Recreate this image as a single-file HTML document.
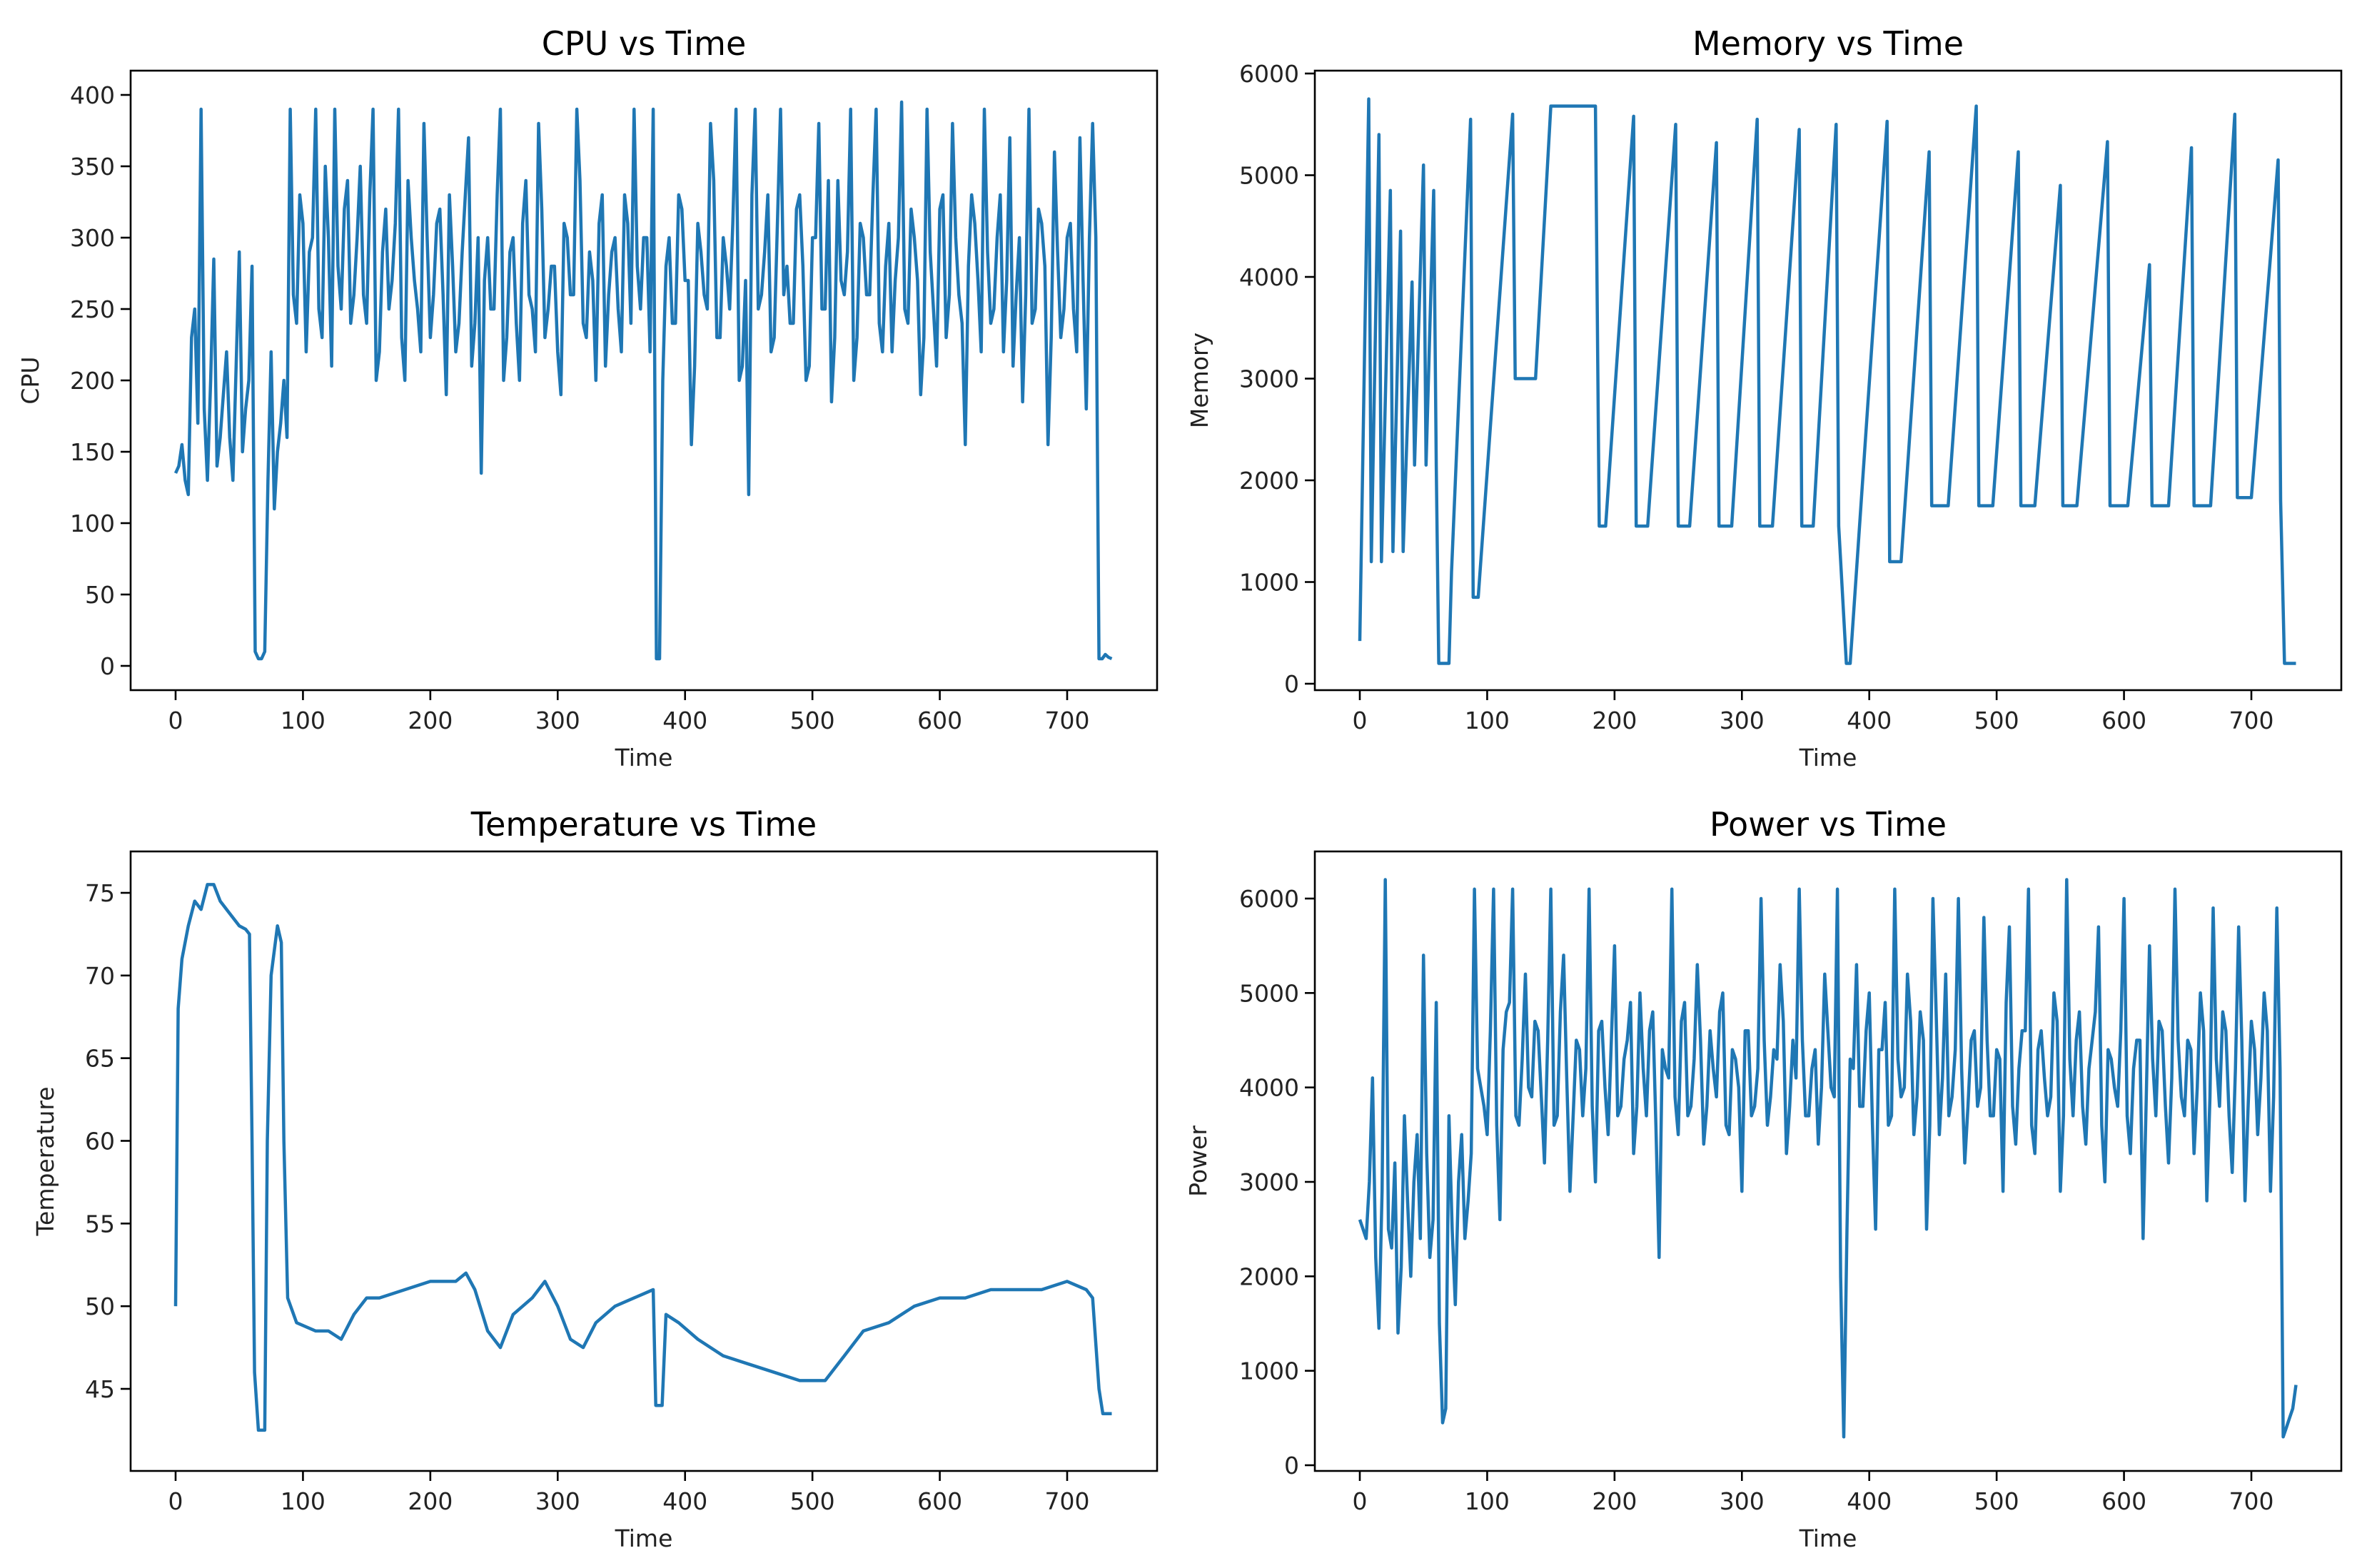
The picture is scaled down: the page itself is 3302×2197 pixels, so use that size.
<!DOCTYPE html>
<html><head><meta charset="utf-8">
<style>
html,body{margin:0;padding:0;background:#fff;}
svg{display:block;font-family:"DejaVu Sans","Liberation Sans",sans-serif;}
</style></head>
<body>
<svg id="fig" width="3302" height="2197" viewBox="0 0 3302 2197" xmlns="http://www.w3.org/2000/svg"></svg>
<script>
// ---- data ----
const STEP = 5;
const cpuValues = [135,155,120,250,390,130,285,160,220,130,290,180,280,5,10,220,150,200,390,240,310,290,390,230,300,390,250,340,260,350,240,390,220,320,270,390,200,300,250,380,230,310,260,330,220,290,370,240,135,300,250,390,230,300,200,340,250,380,230,280,220,310,260,390,240,290,200,330,260,300,220,310,390,250,300,390,5,280,240,330,270,155,310,260,380,230,300,250,390,210,120,390,260,330,230,390,280,240,330,200,300,380,250,185,340,260,390,230,300,260,390,220,310,270,395,240,300,190,390,250,320,230,380,260,155,330,270,390,240,300,220,370,260,185,390,250,310,155,360,230,300,250,370,180,380,5,8,5];
const cpuMidValues = [140,130,230,170,180,200,140,190,160,210,150,200,10,5,130,110,170,160,
260,330,220,300,250,350,210,280,320,240,300,260,330,200,290,250,310,230,340,270,220,300,260,320,190,280,240,330,210,300,270,250,330,200,290,240,310,260,220,320,250,280,190,300,260,340,230,270,310,210,290,250,330,240,280,300,220,
5,200,
300,240,320,270,210,290,250,340,230,280,310,200,270,330,250,290,220,310,260,240,320,280,210,300,250,340,230,270,290,200,310,260,330,240,280,220,300,250,320,270,230,290,210,330,260,300,240,280,310,220,290,250,330,270,210,300,260,240,320,280,230,290,250,310,220,270,300,
300,5,6];
const powerValues = [2600,2400,4100,1450,6200,2300,1400,3700,2000,3500,5400,2200,4900,450,3700,1700,3500,2800,6100,4000,3500,6100,2600,4800,6100,3600,5200,3900,4600,3200,6100,3700,5400,2900,4500,3700,6100,3000,4700,3500,5500,3800,4500,3300,5000,3700,4800,2200,4200,6100,3500,4900,3800,5300,3400,4600,3900,5000,3500,4300,2900,4600,3800,6000,3600,4400,5300,3300,4500,6100,3700,4200,3400,5200,4000,6100,300,4300,5300,3800,5000,2500,4400,3600,6100,3900,5200,3500,4800,2500,6000,3500,5200,3900,6000,3200,4500,3800,5800,3700,4400,2900,5700,3400,4600,6100,3300,4600,3700,5000,2900,6200,3700,4800,3400,4500,5700,3000,4300,3800,6000,3300,4500,2400,5500,3700,4600,3200,6100,3900,4500,3300,5000,2800,5900,3800,4600,3100,5700,2800,4700,3500,5000,2900,5900,300,500,850];
const powerMidValues = [2500,3000,2200,2900,2500,3200,2100,2800,3000,2400,3300,2600,1500,600,2500,3000,2400,3300,
4200,3800,4600,3600,4400,4900,3700,4300,4000,4700,3900,4500,3600,4800,4100,3700,4400,4200,3800,4600,4000,4500,3700,4300,4900,3800,4200,4600,3600,4400,4100,3900,4700,3700,4300,4500,3800,4200,4800,3600,4400,4000,4600,3700,4200,4500,3900,4300,4700,3800,4100,4500,3700,4400,4000,4600,3900,
2000,2500,
4200,3800,4600,3600,4400,4900,3700,4300,4000,4700,3900,4500,3600,4800,4100,3700,4400,4200,3800,4600,4000,4500,3700,4300,4900,3800,4200,4600,3600,4400,4100,3900,4700,3700,4300,4500,3800,4200,4800,3600,4400,4000,4600,3700,4200,4500,3900,4300,4700,3800,4100,4500,3700,4400,4000,4600,3900,4300,4800,3700,4200,4500,3800,4400,4100,4600,3900,
4200,400,600];
const memTimes = [0,7,9,15,17,24,26,32,34,41,43,50,52,58,60,62,70,72,87,89,93,120,122,138,150,185,188,193,215,217,226,248,250,259,280,282,292,312,314,324,345,347,356,374,376,382,385,414,416,425,447,449,462,484,486,497,517,519,530,550,552,563,587,589,603,620,622,635,653,655,668,687,689,700,721,723,726,735];
const memValues = [420,5750,1200,5400,1200,4850,1300,4450,1300,3950,2150,5100,2150,4850,2150,200,200,1100,5550,850,850,5600,3000,3000,5680,5680,1550,1550,5580,1550,1550,5500,1550,1550,5320,1550,1550,5550,1550,1550,5450,1550,1550,5500,1550,200,200,5530,1200,1200,5230,1750,1750,5680,1750,1750,5230,1750,1750,4900,1750,1750,5330,1750,1750,4120,1750,1750,5270,1750,1750,5600,1830,1830,5150,1800,200,200];
const tempTimes = [0,2,5,10,15,20,25,30,35,40,45,50,55,58,60,62,65,70,72,75,80,83,85,88,95,110,120,130,140,150,160,180,200,220,228,235,245,255,265,280,290,300,310,320,330,345,360,375,377,382,385,395,410,430,450,470,490,500,510,525,540,560,580,600,620,640,660,680,700,715,720,725,728,735];
const tempValues = [50,68,71,73,74.5,74,75.5,75.5,74.5,74,73.5,73,72.8,72.5,60,46,42.5,42.5,60,70,73,72,60,50.5,49,48.5,48.5,48,49.5,50.5,50.5,51,51.5,51.5,52,51,48.5,47.5,49.5,50.5,51.5,50,48,47.5,49,50,50.5,51,44,44,49.5,49,48,47,46.5,46,45.5,45.5,45.5,47,48.5,49,50,50.5,50.5,51,51,51,51.5,51,50.5,45,43.5,43.5];
const xTicks = [0,100,200,300,400,500,600,700];
const cpuTicks = [0,50,100,150,200,250,300,350,400];
const memTicks = [0,1000,2000,3000,4000,5000,6000];
const tempTicks = [45,50,55,60,65,70,75];
const powerTicks = [0,1000,2000,3000,4000,5000,6000];

const NS = "http://www.w3.org/2000/svg";
const fig = document.getElementById('fig');
function mk(tag, attrs, parent){const e=document.createElementNS(NS,tag);for(const k in attrs)e.setAttribute(k,attrs[k]);(parent||fig).appendChild(e);return e;}

function merge(main, mid){
  const t=[], v=[];
  main.forEach((val,i)=>{
    t.push(i*STEP); v.push(val);
    if(i<mid.length){t.push(i*STEP+STEP/2); v.push(mid[i]);}
  });
  return {t:t,v:v};
}

function panel(o){
  const g = mk('g',{});
  
  
  const L=o.left,T=o.top,W=1438,H=868;
  const xs = t => o.x0px + t*1.7843;
  const ys = v => o.yA + (v - o.vA)*(o.yB - o.yA)/(o.vB - o.vA);
  let d='';
  o.times.forEach((t,i)=>{d+=(i?'L':'M')+xs(t).toFixed(1)+' '+ys(o.values[i]).toFixed(1);});
  const clip = mk('clipPath',{id:'c'+o.id},g); mk('rect',{x:L,y:T,width:W,height:H},clip);
  const line = mk('path',{d:d,fill:'none',stroke:'#1f77b4','stroke-width':4.5,'stroke-linejoin':'round','clip-path':'url(#c'+o.id+')'},g);
  
  
  const fr = mk('rect',{x:L,y:T,width:W,height:H,fill:'none',stroke:'#000','stroke-width':2.6},g);
  
  
  xTicks.forEach(t=>{
    const x=xs(t);
    mk('line',{x1:x,y1:T+H,x2:x,y2:T+H+14,stroke:'#000','stroke-width':2.6},g);
    const tx=mk('text',{x:x,y:T+H+54,'font-size':33,'text-anchor':'middle',fill:'#222'},g);
    tx.textContent=t;
    
    
  });
  o.ticks.forEach(v=>{
    const y=ys(v);
    mk('line',{x1:L-14,y1:y,x2:L,y2:y,stroke:'#000','stroke-width':2.6},g);
    const tx=mk('text',{x:L-22,y:y+12,'font-size':33,'text-anchor':'end',fill:'#222'},g);
    tx.textContent=v;
    
    
  });
  const ti=mk('text',{x:L+W/2,y:T-22,'font-size':46,'text-anchor':'middle',fill:'#000'},g);
  ti.textContent=o.title;
  
  
  const xl=mk('text',{x:L+W/2,y:T+H+106,'font-size':33,'text-anchor':'middle',fill:'#222'},g);
  xl.textContent='Time';
  
  
  const yl=mk('text',{x:o.ylx,y:T+H/2,'font-size':33,'text-anchor':'middle',fill:'#222',transform:'rotate(-90 '+o.ylx+' '+(T+H/2)+')'},g);
  yl.textContent=o.ylabel;
  
  
}
const cpu = merge(cpuValues, cpuMidValues);
const pow = merge(powerValues, powerMidValues);
panel({id:'cpu',name:'cpu-panel',title:'CPU vs Time',ylabel:'CPU',left:183,top:99,x0px:246,times:cpu.t,values:cpu.v,ticks:cpuTicks,vA:0,yA:933,vB:400,yB:133,ylx:54});
panel({id:'memory',name:'memory-panel',title:'Memory vs Time',ylabel:'Memory',left:1842,top:99,x0px:1905,times:memTimes,values:memValues,ticks:memTicks,vA:0,yA:958,vB:6000,yB:103,ylx:1692});
panel({id:'temperature',name:'temperature-panel',title:'Temperature vs Time',ylabel:'Temperature',left:183,top:1193,x0px:246,times:tempTimes,values:tempValues,ticks:tempTicks,vA:45,yA:1946,vB:75,yB:1251,ylx:75});
panel({id:'power',name:'power-panel',title:'Power vs Time',ylabel:'Power',left:1842,top:1193,x0px:1905,times:pow.t,values:pow.v,ticks:powerTicks,vA:0,yA:2053,vB:6000,yB:1259,ylx:1690});
</script>
</body></html>
